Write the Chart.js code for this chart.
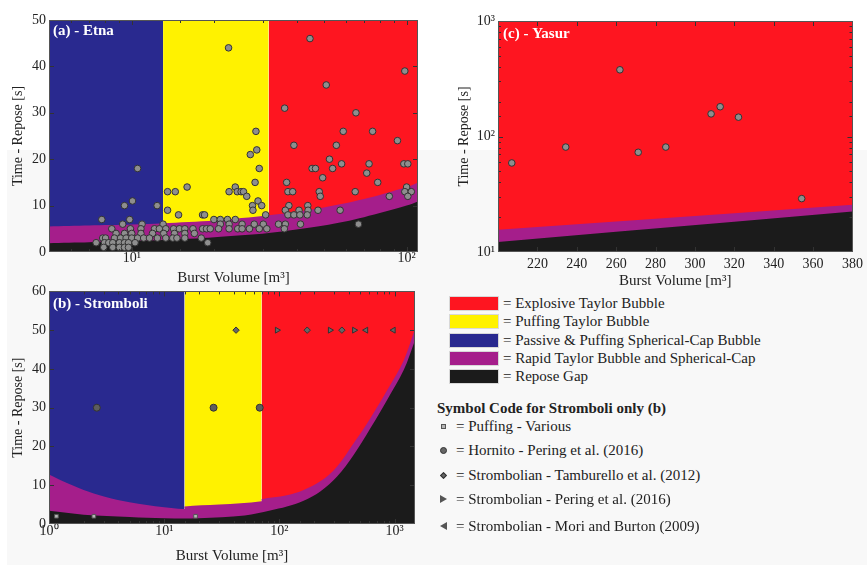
<!DOCTYPE html>
<html>
<head>
<meta charset="utf-8">
<script src="https://cdn.jsdelivr.net/npm/chart.js@4/dist/chart.umd.min.js"></script>
<style>
  body { margin: 0; width: 867px; height: 565px; position: relative; overflow: hidden; background: #fff;
         font-family: "Liberation Serif", "Times New Roman", serif; color: #222; }
  .shade { position: absolute; left: 7px; top: 150px; right: 0; bottom: 0; background: #f8f8f8; }
  canvas { position: absolute; }
  .key { position: absolute; left: 449px; height: 15px; display: flex; align-items: center; font-size: 15px; white-space: nowrap; }
  .sw { width: 50px; height: 15px; margin-right: 4px; box-sizing: border-box; border: 1px solid #d8d8d8; }
  .head { position: absolute; left: 437px; top: 400px; font-size: 15px; font-weight: bold; white-space: nowrap; }
  .sym { position: absolute; left: 437px; height: 16px; display: flex; align-items: center; font-size: 15px; white-space: nowrap; }
  .mk { width: 13px; height: 16px; margin-right: 6px; display: flex; align-items: center; justify-content: center; }
  .mk i { display: block; box-sizing: border-box; }
  .sq i { width: 5px; height: 5px; background: #b5b5b5; border: 1px solid #555; }
  .ci i { width: 7px; height: 7px; border-radius: 50%; background: #666; border: 1px solid #333; }
  .di i { width: 5px; height: 5px; transform: rotate(45deg); background: #666; border: 1px solid #333; }
  .tr i { width: 0; height: 0; border-top: 4px solid transparent; border-bottom: 4px solid transparent; border-left: 7px solid #555; }
  .tl i { width: 0; height: 0; border-top: 4px solid transparent; border-bottom: 4px solid transparent; border-right: 7px solid #555; }
</style>
</head>
<body>
<div class="shade"></div>
<canvas id="etna" width="430" height="290" style="left:0;top:0"></canvas>
<canvas id="yasur" width="437" height="290" style="left:430px;top:0"></canvas>
<canvas id="stromboli" width="430" height="285" style="left:0;top:280px"></canvas>
<div id="legend"></div>

<script>
// ---- data ----
const regionLabels = ["Explosive Taylor Bubble", "Puffing Taylor Bubble", "Passive & Puffing Spherical-Cap Bubble",
  "Rapid Taylor Bubble and Spherical-Cap", "Repose Gap"];
const regionColors = ["#fe1520", "#fff200", "#29298f", "#a51e8b", "#1b1b1b"];

// (a) Etna
const etnaRegionEdges = [5, 13, 31.5, 110];   // passive | puffing | explosive
const etnaTop = 50;
const etnaCurveX = [5, 7, 10, 13, 20, 31.5, 50, 70, 100, 110];
const etnaRapidTop = [5.5, 5.7, 5.9, 6.2, 6.8, 7.9, 9.6, 11.4, 14.0, 15.0];
const etnaGapTop = [1.9, 2.1, 2.4, 2.6, 3.2, 4.1, 5.7, 7.5, 10.0, 10.9];
const etnaVolume = [
  22.5, 44.5, 98.5, 51, 36, 65.4, 28.3, 58.8, 75.2, 38.9, 55.5, 92.6, 27, 28.5, 29.1, 10.5, 52.4, 53.8, 45.3, 46.6,
  58, 73, 71.6, 97.7, 101, 49.5, 78.5, 36.6, 28.1, 15.9, 23.8, 100,
  13.5, 14.4, 22.6, 24.2, 25, 25.5, 37, 38.5, 48.1, 65, 98.5, 104,
  26.2, 48.5, 86.5, 101, 28.8, 10.06,
  9.41, 12.37, 27.5, 29.7, 37.3, 43.7,
  13.5, 27.6, 36.2, 40.6, 43.8, 47.6, 57.3,
  14.8, 18.1, 18.4, 30.7, 37, 38.9, 40.9, 43.5,
  7.78, 9.83, 19.9, 21, 22.3, 23.8,
  9.27, 10.9, 13.0, 21, 22.6, 25.2, 27.9, 30.1, 34.2, 36.2, 41.1, 66.8,
  8.46, 9.89, 10.8, 12.1, 12.6, 13.3, 14.2, 14.9, 15.6, 16.7, 18.1, 18.7, 19.3, 20.7, 22.6, 24.3, 25.2, 26.8, 29.1, 31, 35.9,
  8.77, 9.41, 10.0, 10.8, 11.9, 13.07, 14.3, 15.6, 16.9,
  7.84, 8.03, 8.65, 9.1, 9.54, 10.0, 10.5, 11.05, 11.6, 12.4, 13.3, 14.1, 14.6, 15.6, 17.9,
  7.42, 7.96, 8.25, 8.53, 9.02, 9.41, 9.73, 10.28, 18.9,
  7.91, 8.53, 9.02, 9.41, 9.73
];
const etnaRepose = [
  44, 46, 39, 36, 31, 30, 26, 26, 26, 23, 23, 24, 21, 22, 18, 18, 20, 18, 18, 18,
  19, 19, 17, 19, 19, 16, 15, 15, 15, 14, 14, 14,
  13, 13, 13, 13, 13, 13, 13, 13, 13, 13, 13, 13,
  12, 12, 12, 12, 11, 11,
  10, 10, 10, 10, 10, 10,
  9, 9, 9, 9, 9, 9, 9,
  8, 8, 8, 8, 8, 8, 8, 8,
  7, 7, 7, 7, 7, 7,
  6, 6, 6, 6, 6, 6, 6, 6, 6, 6, 6, 6,
  5, 5, 5, 5, 5, 5, 5, 5, 5, 5, 5, 5, 5, 5, 5, 5, 5, 5, 5, 5, 5,
  4, 4, 4, 4, 4, 4, 4, 4, 4,
  3, 3, 3, 3, 3, 3, 3, 3, 3, 3, 3, 3, 3, 3, 3,
  2, 2, 2, 2, 2, 2, 2, 2, 2,
  1, 1, 1, 1, 1
];

// (b) Stromboli
const stromRegionEdges = [1, 15, 70, 1500];
const stromTop = 60;
const stromRapidX = [1, 1.5, 2, 3, 5, 10, 15, 15, 30, 70, 70, 116, 162, 226, 315, 440, 615, 859, 1197, 1500];
const stromRapidTop = [12.8, 10.3, 8.8, 7.1, 5.6, 4.3, 3.9, 4.5, 5.0, 5.9, 6.4, 7.4, 8.8, 11.0, 14.8, 20.8, 27.3, 34.5, 42.2, 50.4];
const stromGapX = [1, 2, 5, 10, 20, 50, 83, 116, 162, 226, 315, 440, 615, 859, 1197, 1500];
const stromGapTop = [3.4, 2.4, 1.8, 1.5, 1.5, 2.2, 3.5, 4.5, 6.0, 8.4, 12.2, 17.8, 24.7, 32, 39.7, 47.4];
const puffVolume = [1.16, 2.45, 18.7], puffRepose = [2, 2, 2];
const hornitoVolume = [2.6, 26.8, 67.4], hornitoRepose = [30, 30, 30];
const tamburelloVolume = [42, 174, 348], tamburelloRepose = [50, 50, 50];
const peringVolume = [95.4, 275, 446], peringRepose = [50, 50, 50];
const moriVolume = [563, 975], moriRepose = [50, 50];
const symbolLabels = ["= Puffing - Various", "= Hornito - Pering et al. (2016)", "= Strombolian - Tamburello et al. (2012)",
  "= Strombolian - Pering et al. (2016)", "= Strombolian - Mori and Burton (2009)"];

// (c) Yasur
const yasurRegionEdges = [200, 380];
const yasurTop = 1000;
const yasurCurveX = [200, 260, 320, 380];
const yasurRapidTop = [15.6, 18.4, 21.7, 25.6];
const yasurGapTop = [12.2, 15.0, 18.3, 22.4];
const yasurVolume = [207, 234.4, 261.9, 271.2, 285.2, 308.2, 312.8, 322.1, 354.2];
const yasurRepose = [59, 81, 378, 73, 81, 157, 181, 147, 29];

// ---- helpers ----
const FONT = "'Liberation Serif', 'Times New Roman', serif";
const SUP = ["⁰", "¹", "²", "³"];
Chart.defaults.font.family = FONT;
Chart.defaults.color = "#222";

function powLabel(v) {
  const e = Math.log10(v);
  return Math.abs(e - Math.round(e)) < 1e-9 ? "10" + SUP[Math.round(e)] : "";
}
const pts = (xs, ys) => xs.map((x, i) => ({ x, y: ys[i] }));

function areaSet(xs, ys, color, order, tension) {
  return { data: pts(xs, ys), fill: "start", backgroundColor: color, borderColor: "transparent",
           borderWidth: 0, pointRadius: 0, order, tension: tension || 0 };
}
// passive / puffing / explosive backgrounds, left to right
function regionSets(edges, top, colors) {
  return edges.slice(0, -1).map((e, i) => areaSet([e, edges[i + 1]], [top, top], colors[i], 3));
}
function pointSet(xs, ys, style) {
  return Object.assign({ data: pts(xs, ys), showLine: false, order: 0, pointBorderWidth: 1,
                         pointBorderColor: "#333", pointBackgroundColor: "#8e8e8e", pointRadius: 3.3 }, style);
}

// frame, inward tick marks and panel name
const panelFrame = {
  id: "panelFrame",
  afterDatasetsDraw(chart, args, opts) {
    const { ctx, chartArea: a, scales: { x, y } } = chart;
    ctx.save();
    ctx.strokeStyle = "#333";
    ctx.lineWidth = 1;
    ctx.beginPath();
    x.ticks.forEach(t => {
      const px = Math.round(x.getPixelForValue(t.value)) + 0.5;
      if (px < a.left + 2 || px > a.right - 2) return;
      const len = t.label ? 5 : 3;
      ctx.moveTo(px, a.bottom); ctx.lineTo(px, a.bottom - len);
      ctx.moveTo(px, a.top); ctx.lineTo(px, a.top + len);
    });
    y.ticks.forEach(t => {
      const py = Math.round(y.getPixelForValue(t.value)) + 0.5;
      if (py < a.top + 2 || py > a.bottom - 2) return;
      const len = t.label ? 5 : 3;
      ctx.moveTo(a.left, py); ctx.lineTo(a.left + len, py);
      ctx.moveTo(a.right, py); ctx.lineTo(a.right - len, py);
    });
    ctx.stroke();
    ctx.strokeStyle = "#555";
    ctx.strokeRect(Math.round(a.left) + 0.5, Math.round(a.top) + 0.5, Math.round(a.width) - 1, Math.round(a.height) - 1);
    ctx.fillStyle = "#fff";
    ctx.font = "bold 15px " + FONT;
    ctx.textBaseline = "middle";
    ctx.fillText(opts.label, a.left + opts.dx, a.top + opts.dy);
    ctx.restore();
  }
};

const tickFont = { family: FONT, size: 14 };
function xAxis(type, min, max, h, tickPad, titlePad, extra) {
  return Object.assign({
    type, min, max,
    grid: { display: false, drawTicks: false }, border: { display: false },
    ticks: { autoSkip: false, maxRotation: 0, minRotation: 0, padding: tickPad, font: tickFont, color: "#222",
             callback: type === "logarithmic" ? powLabel : v => v },
    title: { display: true, text: "Burst Volume [m³]", font: { family: FONT, size: 15 }, color: "#222",
             padding: { top: 0, bottom: titlePad } },
    afterFit: s => { s.height = h; }
  }, extra || {});
}
function yAxis(type, min, max, w, titlePad, extra) {
  return Object.assign({
    type, min, max,
    grid: { display: false, drawTicks: false }, border: { display: false },
    ticks: { autoSkip: false, padding: 3, font: tickFont, color: "#222",
             callback: type === "logarithmic" ? powLabel : v => v },
    title: { display: true, text: "Time - Repose [s]", font: tickFont, color: "#222", padding: { top: titlePad, bottom: 0 } },
    afterFit: s => { s.width = w; }
  }, extra || {});
}
function panel(id, datasets, padding, x, y, label) {
  return new Chart(document.getElementById(id), {
    type: "line",
    data: { datasets },
    options: {
      responsive: false, animation: false, events: [],
      layout: { padding, autoPadding: false },
      plugins: { legend: { display: false }, tooltip: { enabled: false }, panelFrame: label },
      scales: { x, y }
    },
    plugins: [panelFrame]
  });
}

const [cExplosive, cPuffing, cPassive, cRapid, cGap] = regionColors;

// (a) Etna
panel("etna", [
  pointSet(etnaVolume, etnaRepose, {}),
  areaSet(etnaCurveX, etnaGapTop, cGap, 1, 0.3),
  areaSet(etnaCurveX, etnaRapidTop, cRapid, 2, 0.3),
  ...regionSets(etnaRegionEdges, etnaTop, [cPassive, cPuffing, cExplosive])
], { top: 20, right: 12, left: 0, bottom: 0 },
  xAxis("logarithmic", 5, 110, 38, -2, 3),
  yAxis("linear", 0, 50, 49, 10, { ticks: { autoSkip: false, padding: 3, font: tickFont, color: "#222", stepSize: 10 } }),
  { label: "(a) - Etna", dx: 4, dy: 11 });

// (b) Stromboli
panel("stromboli", [
  pointSet(puffVolume, puffRepose, { pointStyle: "rect", pointRadius: 2.6, pointBackgroundColor: "#b5b5b5", pointBorderColor: "#555" }),
  pointSet(hornitoVolume, hornitoRepose, { pointRadius: 3.5, pointBackgroundColor: "#5e5e5e" }),
  pointSet(tamburelloVolume, tamburelloRepose, { pointStyle: "rectRot", pointRadius: 3.2, pointBackgroundColor: "#666" }),
  pointSet(peringVolume, peringRepose, { pointStyle: "triangle", pointRotation: 90, pointRadius: 3.4, pointBackgroundColor: "#666" }),
  pointSet(moriVolume, moriRepose, { pointStyle: "triangle", pointRotation: -90, pointRadius: 3.4, pointBackgroundColor: "#666" }),
  areaSet(stromGapX, stromGapTop, cGap, 1, 0.35),
  areaSet(stromRapidX, stromRapidTop, cRapid, 2, 0.35),
  ...regionSets(stromRegionEdges, stromTop, [cPassive, cPuffing, cExplosive])
], { top: 11, right: 15, left: 0, bottom: 0 },
  xAxis("logarithmic", 1, 1500, 41, -1, 0),
  yAxis("linear", 0, 60, 49, 10, { ticks: { autoSkip: false, padding: 3, font: tickFont, color: "#222", stepSize: 10 } }),
  { label: "(b) - Stromboli", dx: 4, dy: 13 });

// (c) Yasur
panel("yasur", [
  pointSet(yasurVolume, yasurRepose, {}),
  areaSet(yasurCurveX, yasurGapTop, cGap, 1),
  areaSet(yasurCurveX, yasurRapidTop, cRapid, 2),
  ...regionSets(yasurRegionEdges, yasurTop, [cExplosive])
], { top: 21, right: 9, left: 0, bottom: 0 },
  xAxis("linear", 200, 380, 38, 4, 0, { ticks: { autoSkip: false, maxRotation: 0, padding: 4, font: tickFont, color: "#222",
    stepSize: 20, callback: v => (v === 200 ? "" : v) } }),
  yAxis("logarithmic", 10, 1000, 68, 26),
  { label: "(c) - Yasur", dx: 5, dy: 13 });

// ---- legend ----
const legend = document.getElementById("legend");
const keyTops = [295.5, 314, 332.5, 351, 369.3];
regionLabels.forEach((name, i) => {
  const d = document.createElement("div");
  d.className = "key";
  d.style.top = keyTops[i] + "px";
  d.innerHTML = '<span class="sw" style="background:' + regionColors[i] + '"></span>= ' + name;
  legend.appendChild(d);
});
const head = document.createElement("div");
head.className = "head";
head.textContent = "Symbol Code for Stromboli only (b)";
legend.appendChild(head);
const symShapes = ["sq", "ci", "di", "tr", "tl"];
const symTops = [418, 442.7, 467, 491, 518];
symbolLabels.forEach((txt, i) => {
  const d = document.createElement("div");
  d.className = "sym";
  d.style.top = symTops[i] + "px";
  d.innerHTML = '<span class="mk ' + symShapes[i] + '"><i></i></span>' + txt;
  legend.appendChild(d);
});
</script>
</body>
</html>
